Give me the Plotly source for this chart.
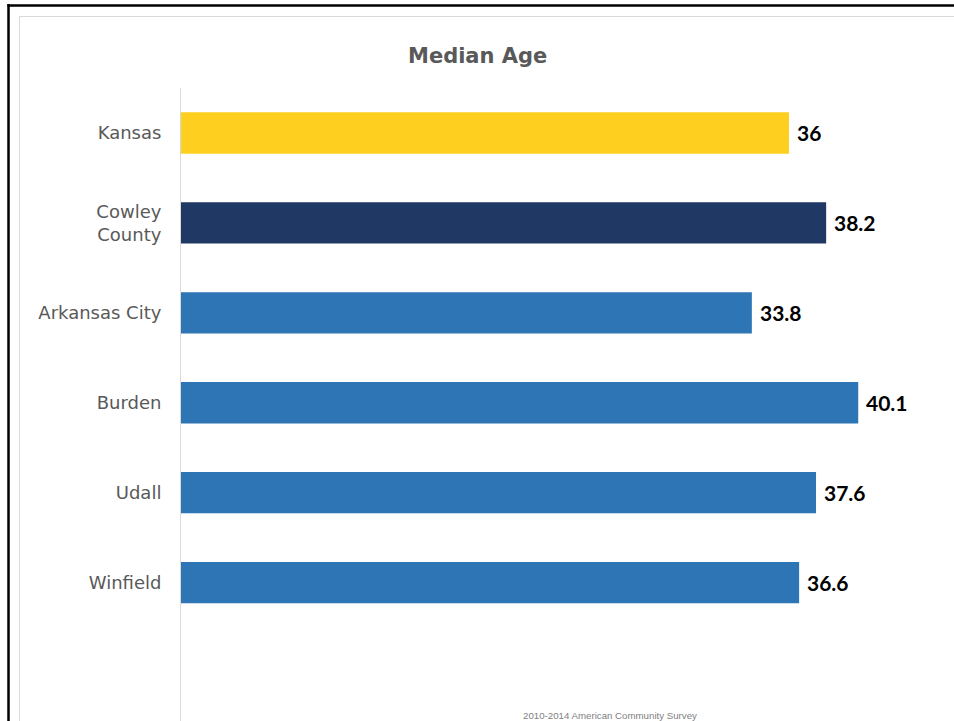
import plotly.graph_objects as go

categories = ["Kansas", "Cowley<br>County", "Arkansas City", "Burden", "Udall", "Winfield"]
values = [36, 38.2, 33.8, 40.1, 37.6, 36.6]
labels = ["36", "38.2", "33.8", "40.1", "37.6", "36.6"]
colors = ["#FFCF1F", "#1F3864", "#2E75B6", "#2E75B6", "#2E75B6", "#2E75B6"]

W, H = 954, 721
L, R, T, B = 181, 13, 88, 0
pw, ph = W - L - R, H - T - B

def px(x):
    return (x - L) / pw

def py(y):
    return (H - B - y) / ph

fig = go.Figure(go.Bar(
    x=values, y=categories, orientation="h",
    marker=dict(color=colors, line=dict(width=0)),
    width=0.46,
    hoverinfo="skip",
))

annotations = [
    dict(x=v, y=c, xref="x", yref="y", text="<b>" + t + "</b>", showarrow=False,
         xanchor="left", yanchor="middle", xshift=6,
         font=dict(family="Lato, Open Sans, sans-serif", size=21, color="#000000"))
    for v, c, t in zip(values, categories, labels)
]
annotations += [
    dict(text="<b>Median Age</b>", x=px(477), y=py(56), xref="paper", yref="paper",
         xanchor="center", yanchor="middle", showarrow=False,
         font=dict(family="DejaVu Sans, Verdana, sans-serif", size=21, color="#595959")),
    dict(text="2010-2014 American Community Survey", x=px(610), y=py(715), xref="paper", yref="paper",
         xanchor="center", yanchor="middle", showarrow=False,
         font=dict(family="Liberation Sans Narrow, Liberation Sans, sans-serif", size=9.7, color="#808080")),
]

shapes = [
    dict(type="line", x0=px(8.5), x1=px(8.5), y0=py(4), y1=py(721), line=dict(color="#000000", width=2.5)),
    dict(type="line", x0=px(7.5), x1=px(954), y0=py(5.5), y1=py(5.5), line=dict(color="#000000", width=2.5)),
    dict(type="line", x0=px(19.5), x1=px(19.5), y0=py(16), y1=py(721), line=dict(color="#D9D9D9", width=1)),
    dict(type="line", x0=px(19), x1=px(954), y0=py(16.5), y1=py(16.5), line=dict(color="#D9D9D9", width=1)),
]
for s in shapes:
    s["xref"] = "paper"
    s["yref"] = "paper"

fig.update_layout(
    width=W, height=H,
    margin=dict(l=L, r=R, t=T, b=B),
    paper_bgcolor="white", plot_bgcolor="white",
    showlegend=False,
    xaxis=dict(range=[0, 45], visible=False, fixedrange=True),
    yaxis=dict(
        range=[6.539, -0.5], showline=True, linecolor="#D9D9D9", linewidth=1,
        ticks="", showgrid=False, ticklabelstandoff=15, fixedrange=True,
        tickfont=dict(family="DejaVu Sans, Verdana, sans-serif", size=18, color="#595959"),
    ),
    annotations=annotations,
    shapes=shapes,
)

fig.write_html("out.html", config={"displayModeBar": False},
               post_script="document.body.style.margin='0';document.body.style.padding='0';")
